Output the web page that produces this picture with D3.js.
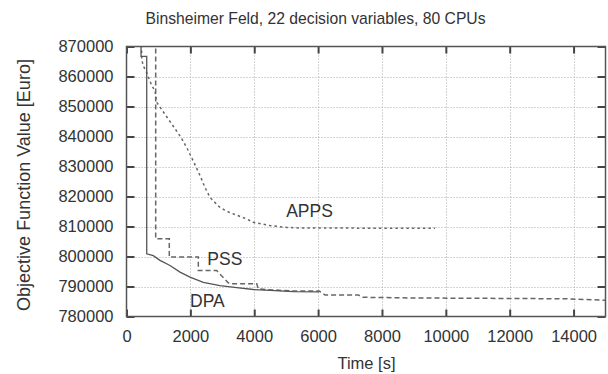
<!DOCTYPE html>
<html><head><meta charset="utf-8">
<script src="https://cdn.jsdelivr.net/npm/d3@7"></script>
<style>body{margin:0;background:#fff}svg{display:block}</style>
</head><body>
<svg id="c" width="608" height="374"></svg>
<script>
const title = "Binsheimer Feld, 22 decision variables, 80 CPUs";
const xLabel = "Time [s]";
const yLabel = "Objective Function Value [Euro]";
const xTicks = [0, 2000, 4000, 6000, 8000, 10000, 12000, 14000];
const yTicks = [780000, 790000, 800000, 810000, 820000, 830000, 840000, 850000, 860000, 870000];

// DPA (solid, step)
const dpaT = [455, 455, 633, 633, 839, 1049, 1362, 1676, 1989, 2405, 2928, 3451, 3971, 4494, 5224, 6030];
const dpaV = [872000, 866700, 866700, 800900, 800300, 798700, 797000, 794800, 793100, 791400, 790300, 789600, 789000, 788700, 788300, 788200];
// PSS (dashed)
const pssT = [914, 914, 1340, 1340, 2249, 2249, 2825, 3180, 3241, 4078, 4128, 4500, 5215, 6030, 6217, 7256, 7400, 8790, 13786, 15000];
const pssV = [872000, 805900, 805900, 799800, 799800, 795300, 795300, 791300, 790900, 790900, 789200, 788900, 788500, 788500, 787200, 787200, 786400, 786200, 785900, 785400];
// APPS (dotted)
const appsT = [470, 476, 517, 633, 789, 893, 946, 1049, 1362, 1707, 1900, 2114, 2302, 2450, 2615, 2928, 3241, 3774, 3962, 4494, 5026, 5434, 9660];
const appsV = [870500, 866000, 863700, 861300, 857000, 855300, 851400, 849800, 845000, 839700, 836000, 831300, 827000, 823200, 819700, 816300, 814600, 812500, 811400, 810300, 809700, 809500, 809400];

const labels = [
  {text: "APPS", t: 5000, v: 813200},
  {text: "PSS", t: 2530, v: 797300},
  {text: "DPA", t: 1990, v: 783300}
];

const svg = d3.select("#c");
const L = 126.5, R = 605.5, T = 46.5, B = 316.5;
const x = d3.scaleLinear().domain([0, 15000]).range([L, R]);
const y = d3.scaleLinear().domain([780000, 870000]).range([B, T]);
const font = "'Liberation Sans', Arial, sans-serif";
const ink = "#333";

svg.append("defs").append("clipPath").attr("id", "clip")
  .append("rect").attr("x", L).attr("y", T).attr("width", R - L).attr("height", B - T);

// grid
const grid = svg.append("g").attr("stroke", "#aaa").attr("stroke-width", 1).attr("stroke-dasharray", "1,2");
grid.selectAll(".gx").data(xTicks.filter(d => d > 0)).join("line")
  .attr("x1", d => Math.round(x(d)) + 0.5).attr("x2", d => Math.round(x(d)) + 0.5)
  .attr("y1", T).attr("y2", B);
grid.selectAll(".gy").data(yTicks.filter(d => d > 780000 && d < 870000)).join("line")
  .attr("y1", d => Math.round(y(d)) + 0.5).attr("y2", d => Math.round(y(d)) + 0.5)
  .attr("x1", L).attr("x2", R);

// axes
function styleAxis(g, hide) {
  g.select(".domain").remove();
  g.selectAll(".tick line").attr("stroke", "#444").attr("stroke-width", 2);
  g.selectAll(".tick text").attr("fill", ink).style("font-family", font).style("font-size", "16.5px");
  if (hide) g.selectAll(".tick text").remove();
}
svg.append("g").attr("transform", `translate(0,${B})`)
  .call(d3.axisBottom(x).tickValues(xTicks).tickSizeInner(-7).tickSizeOuter(0).tickPadding(14).tickFormat(d3.format("d")))
  .call(g => styleAxis(g, false));
svg.append("g").attr("transform", `translate(0,${T})`)
  .call(d3.axisTop(x).tickValues(xTicks).tickSizeInner(-7).tickSizeOuter(0))
  .call(g => styleAxis(g, true));
svg.append("g").attr("transform", `translate(${L},0)`)
  .call(d3.axisLeft(y).tickValues(yTicks).tickSizeInner(-8).tickSizeOuter(0).tickPadding(13).tickFormat(d3.format("d")))
  .call(g => styleAxis(g, false));
svg.append("g").attr("transform", `translate(${R},0)`)
  .call(d3.axisRight(y).tickValues(yTicks).tickSizeInner(-8).tickSizeOuter(0))
  .call(g => styleAxis(g, true));

// frame
svg.append("rect").attr("x", L).attr("y", T).attr("width", R - L).attr("height", B - T)
  .attr("fill", "none").attr("stroke", "#555").attr("stroke-width", 1.5);

// series
const lineG = svg.append("g").attr("clip-path", "url(#clip)").attr("fill", "none");
const mk = (T_, V_) => T_.map((t, i) => [t, V_[i]]);
const line = d3.line().x(d => x(d[0])).y(d => y(d[1]));
lineG.append("path").datum(mk(appsT, appsV)).attr("d", line)
  .attr("stroke", "#666").attr("stroke-width", 1.5).attr("stroke-dasharray", "2.5,3");
lineG.append("path").datum(mk(pssT, pssV)).attr("d", line)
  .attr("stroke", "#666").attr("stroke-width", 1.5).attr("stroke-dasharray", "5,3");
lineG.append("path").datum(mk(dpaT, dpaV)).attr("d", line)
  .attr("stroke", "#555").attr("stroke-width", 1.3);

// series labels
svg.selectAll(".lbl").data(labels).join("text")
  .attr("x", d => x(d.t)).attr("y", d => y(d.v))
  .attr("fill", ink).style("font-family", font).style("font-size", "17.5px")
  .text(d => d.text);

// titles
svg.append("text").attr("x", 315.5).attr("y", 24).attr("text-anchor", "middle")
  .attr("fill", ink).style("font-family", font).style("font-size", "15.7px").text(title);
svg.append("text").attr("x", 366.5).attr("y", 369).attr("text-anchor", "middle")
  .attr("fill", ink).style("font-family", font).style("font-size", "16.5px").text(xLabel);
svg.append("text").attr("transform", "translate(30,185) rotate(-90)").attr("text-anchor", "middle")
  .attr("fill", ink).style("font-family", font).style("font-size", "18px").text(yLabel);
</script>
</body></html>
